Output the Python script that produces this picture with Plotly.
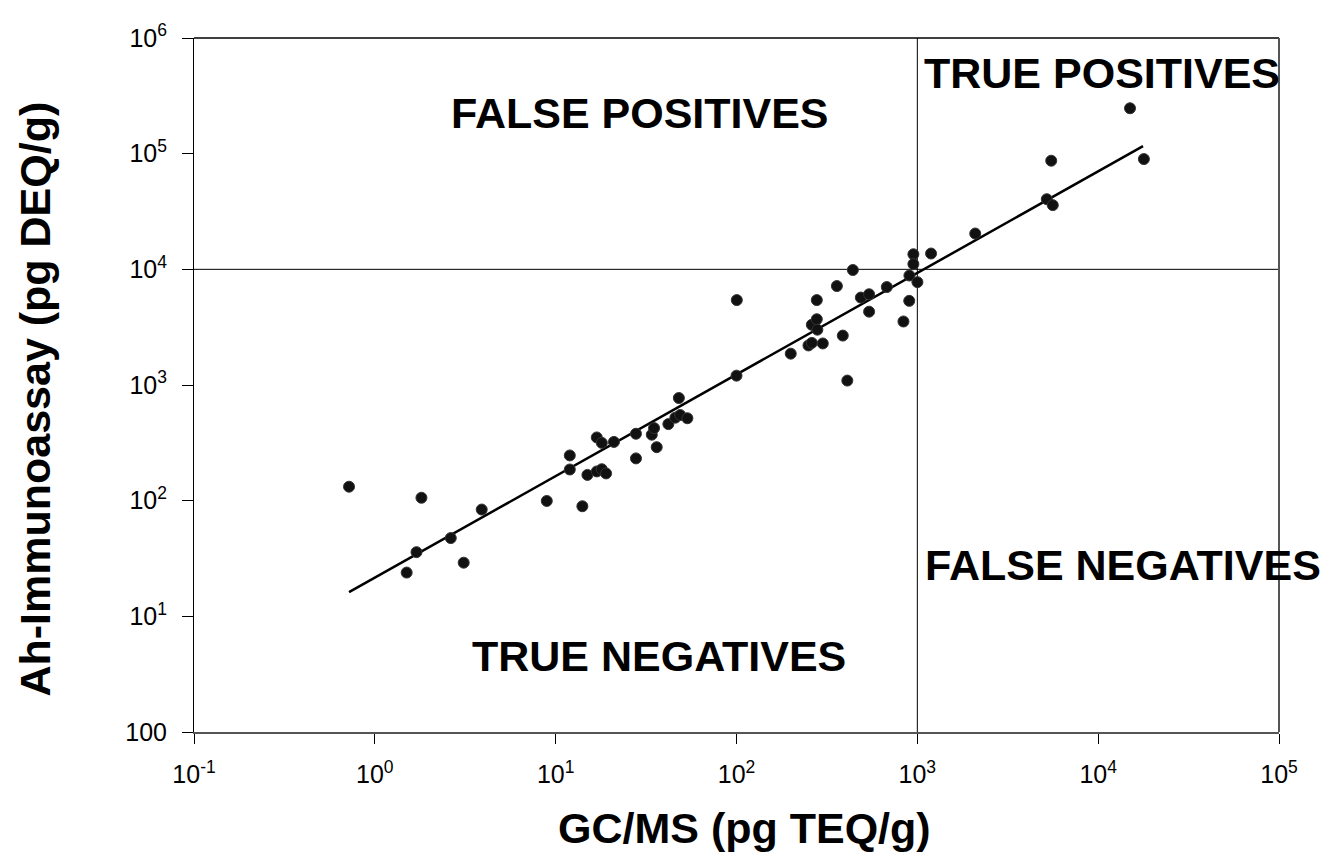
import plotly.graph_objects as go

# GC/MS (pg TEQ/g) values
gcms = [0.72, 1.81, 3.90, 2.63, 1.70, 1.50, 3.10, 8.93, 14.05, 11.97,
        11.97, 14.98, 16.88, 17.99, 19.0, 16.88, 18.0, 21.0, 27.8, 27.8,
        34.0, 35.0, 36.2, 42.0, 45.9, 48.8, 53.5, 48.0, 100.4, 100.0,
        199.5, 250, 261, 300, 261, 278, 280, 278, 359, 387,
        410, 440, 487, 541, 541, 678, 838, 902, 904, 951,
        951, 1001, 1191, 2090, 5200, 5610, 5500, 15000, 17900]
# Ah-Immunoassay (pg DEQ/g) values
immuno = [132, 106, 83.8, 47.5, 35.9, 23.9, 29.1, 99.4, 89.5, 246,
          186, 167, 179, 187, 172, 352, 316, 322, 379, 232,
          372, 424, 290, 459, 522, 550, 516, 772, 5420, 1205,
          1866, 2198, 2313, 2287, 3318, 3703, 3008, 5420, 7170, 2674,
          1092, 9870, 5700, 6090, 4305, 7030, 3540, 5340, 8840, 13500,
          11100, 7750, 13700, 20400, 40400, 35900, 86900, 247000, 89800]

# Regression line endpoints
fit_x = [0.72, 17700]
fit_y = [16.2, 116000]

# Decision thresholds
gcms_cut = 1000
immuno_cut = 10000
x_range = [0.1, 100000]
y_range = [1, 1000000]

x_tickvals = [0.1, 1, 10, 100, 1000, 10000, 100000]
x_ticktext = ["10<sup>-1</sup>", "10<sup>0</sup>", "10<sup>1</sup>", "10<sup>2</sup>",
              "10<sup>3</sup>", "10<sup>4</sup>", "10<sup>5</sup>"]
y_tickvals = [1, 10, 100, 1000, 10000, 100000, 1000000]
y_ticktext = ["100", "10<sup>1</sup>", "10<sup>2</sup>", "10<sup>3</sup>",
              "10<sup>4</sup>", "10<sup>5</sup>", "10<sup>6</sup>"]

FONT = "Liberation Sans, Arial, sans-serif"

fig = go.Figure()

# threshold lines
fig.add_trace(go.Scatter(x=x_range, y=[immuno_cut, immuno_cut], mode="lines",
                         line=dict(color="black", width=1), hoverinfo="skip"))
fig.add_trace(go.Scatter(x=[gcms_cut, gcms_cut], y=y_range, mode="lines",
                         line=dict(color="black", width=1), hoverinfo="skip"))
# regression line
fig.add_trace(go.Scatter(x=fit_x, y=fit_y, mode="lines",
                         line=dict(color="black", width=2.5), hoverinfo="skip"))
# data points
fig.add_trace(go.Scatter(x=gcms, y=immuno, mode="markers",
                         marker=dict(color="#111111", size=11,
                                     line=dict(color="#333333", width=1))))

fig.update_layout(
    width=1329, height=854,
    margin=dict(l=186, r=58, t=19, b=130),
    plot_bgcolor="white", paper_bgcolor="white",
    showlegend=False,
    font=dict(family=FONT, color="black"),
)

fig.update_xaxes(type="log", range=[-1, 5], tickvals=x_tickvals, ticktext=x_ticktext,
                 showgrid=False, zeroline=False, showline=True, linecolor="#555555",
                 linewidth=2, ticks="outside", ticklen=10, tickcolor="black", tickwidth=1,
                 tickfont=dict(size=25, family=FONT, color="black"),
                 ticklabelstandoff=9)
fig.update_yaxes(type="log", range=[0, 6], tickvals=y_tickvals, ticktext=y_ticktext,
                 showgrid=False, zeroline=False, showline=True, linecolor="black",
                 linewidth=1, ticks="outside", ticklen=11, tickcolor="black", tickwidth=1,
                 tickfont=dict(size=25, family=FONT, color="black"),
                 ticklabelstandoff=10)

# top and right frame
fig.add_shape(type="line", xref="paper", yref="paper", x0=0, x1=1, y0=1, y1=1,
              line=dict(color="black", width=1.5))
fig.add_shape(type="line", xref="paper", yref="paper", x0=1, x1=1, y0=0, y1=1,
              line=dict(color="#555555", width=2))

def lab(text, x, y, size=43, **kw):
    fig.add_annotation(text="<b>" + text + "</b>", xref="paper", yref="paper",
                       x=x, y=y, showarrow=False, xanchor="center", yanchor="middle",
                       font=dict(size=size, family=FONT, color="black"), **kw)

lab("FALSE POSITIVES", 0.411, 0.892)
lab("TRUE POSITIVES", 0.837, 0.950)
lab("FALSE NEGATIVES", 0.856, 0.241)
lab("TRUE NEGATIVES", 0.4286, 0.109)

lab("GC/MS (pg TEQ/g)", 0.507, -0.139, size=43)
lab("Ah-Immunoassay (pg DEQ/g)", -0.1465, 0.479, size=43, textangle=-90)

fig.write_html("out.html")
